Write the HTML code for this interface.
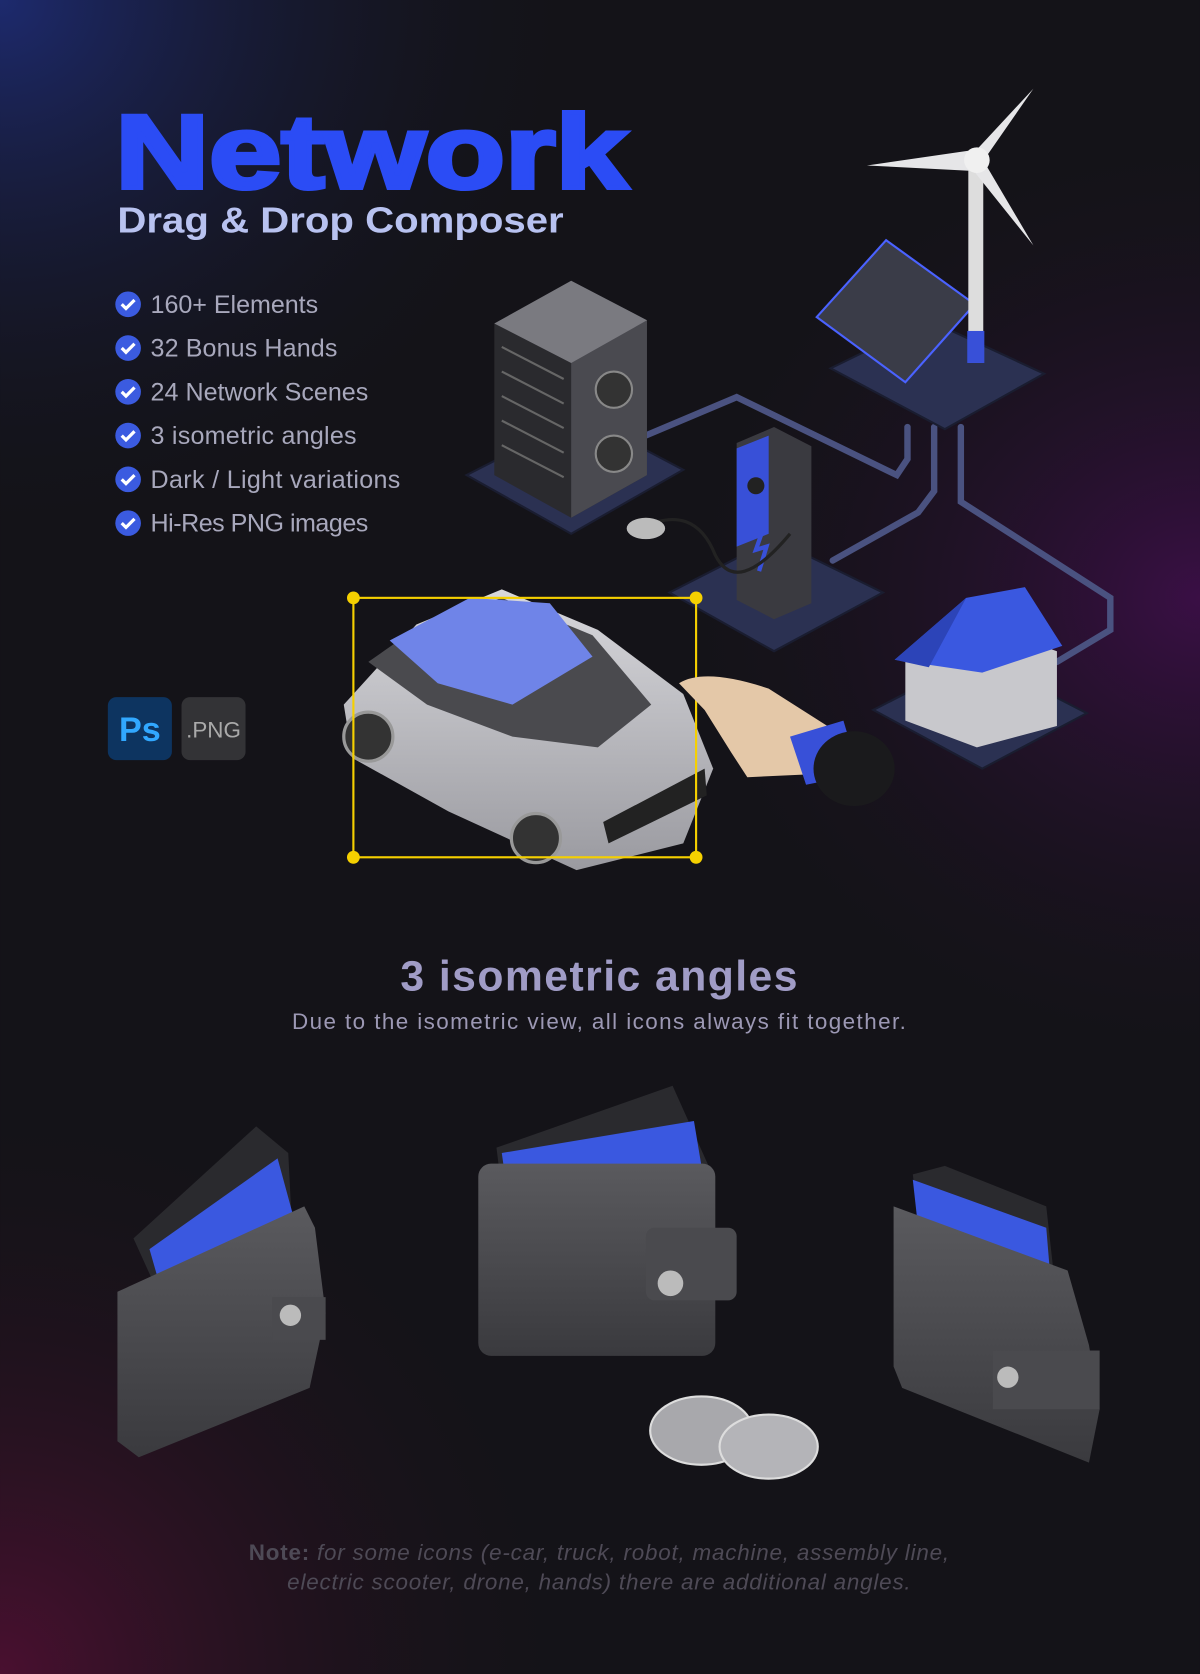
<!DOCTYPE html>
<html><head><meta charset="utf-8"><style>
html,body{margin:0;padding:0;background:#141318;}
svg{display:block}
</style></head><body>
<svg width="1200" height="1674" viewBox="0 0 1124 1568" xmlns="http://www.w3.org/2000/svg">
<defs>
<radialGradient id="g1" cx="0" cy="0" r="1" gradientUnits="userSpaceOnUse" gradientTransform="translate(0,0) scale(560,520)">
<stop offset="0" stop-color="#1d2a6e"/><stop offset="1" stop-color="#141318" stop-opacity="0"/></radialGradient>
<radialGradient id="g2" cx="0" cy="0" r="1" gradientUnits="userSpaceOnUse" gradientTransform="translate(1124,560) scale(520,460)">
<stop offset="0" stop-color="#3a0f45"/><stop offset="1" stop-color="#141318" stop-opacity="0"/></radialGradient>
<radialGradient id="g3" cx="0" cy="0" r="1" gradientUnits="userSpaceOnUse" gradientTransform="translate(0,1568) scale(560,560)">
<stop offset="0" stop-color="#4a1030"/><stop offset="1" stop-color="#141318" stop-opacity="0"/></radialGradient>
<linearGradient id="sil" x1="0" y1="0" x2="0" y2="1"><stop offset="0" stop-color="#d8d8dc"/><stop offset="1" stop-color="#9a9aa0"/></linearGradient>
<linearGradient id="wal" x1="0" y1="0" x2="0" y2="1"><stop offset="0" stop-color="#5a5a5e"/><stop offset="1" stop-color="#3a3a3e"/></linearGradient>
</defs>
<rect width="1124" height="1568" fill="#141318"/>
<rect width="1124" height="1568" fill="url(#g1)"/>
<rect width="1124" height="1568" fill="url(#g2)"/>
<rect width="1124" height="1568" fill="url(#g3)"/>

<g font-family="Liberation Sans, sans-serif">
<text x="108" y="176" font-size="98" font-weight="900" fill="#2b4cf5" textLength="480" lengthAdjust="spacingAndGlyphs" stroke="#2b4cf5" stroke-width="4">Network</text>
<text x="110" y="218" font-size="34" font-weight="700" fill="#b8c2f0" textLength="418" lengthAdjust="spacingAndGlyphs">Drag &amp; Drop Composer</text>
</g>
<g font-family="Liberation Sans, sans-serif" font-size="23.5" fill="#a8a8bc">
<circle cx="120" cy="285" r="12" fill="#3b5be0"/><path d="M114 285l4 4 8-8" stroke="#fff" stroke-width="3" fill="none"/><text x="141" y="293" textLength="157">160+ Elements</text>
<circle cx="120" cy="326" r="12" fill="#3b5be0"/><path d="M114 326l4 4 8-8" stroke="#fff" stroke-width="3" fill="none"/><text x="141" y="334" textLength="175">32 Bonus Hands</text>
<circle cx="120" cy="367" r="12" fill="#3b5be0"/><path d="M114 367l4 4 8-8" stroke="#fff" stroke-width="3" fill="none"/><text x="141" y="375" textLength="204">24 Network Scenes</text>
<circle cx="120" cy="408" r="12" fill="#3b5be0"/><path d="M114 408l4 4 8-8" stroke="#fff" stroke-width="3" fill="none"/><text x="141" y="416" textLength="193">3 isometric angles</text>
<circle cx="120" cy="449" r="12" fill="#3b5be0"/><path d="M114 449l4 4 8-8" stroke="#fff" stroke-width="3" fill="none"/><text x="141" y="457" textLength="234">Dark / Light variations</text>
<circle cx="120" cy="490" r="12" fill="#3b5be0"/><path d="M114 490l4 4 8-8" stroke="#fff" stroke-width="3" fill="none"/><text x="141" y="498" textLength="204">Hi-Res PNG images</text>
</g>
<rect x="101" y="653" width="60" height="59" rx="8" fill="#0d3460"/>
<text x="131" y="694" text-anchor="middle" font-family="Liberation Sans, sans-serif" font-weight="700" font-size="32" fill="#31a8ff">Ps</text>
<rect x="170" y="653" width="60" height="59" rx="8" fill="#333336"/>
<text x="200" y="691" text-anchor="middle" font-family="Liberation Sans, sans-serif" font-size="21" fill="#aaa">.PNG</text>

<g fill="none" stroke="#4a5280" stroke-width="6" stroke-linecap="round">
<path d="M600 410 L690 372 L840 445 L850 430 L850 400"/>
<path d="M780 525 L860 480 L875 460 L875 400"/>
<path d="M900 400 L900 470 L1040 560 L1040 590 L990 620"/>
</g>
<g fill="#2b3152" stroke="#1a1d30" stroke-width="2">
<path d="M437 445 L545 390 L640 440 L535 500Z"/>
<path d="M778 345 L870 300 L978 350 L885 402Z"/>
<path d="M627 555 L725 505 L827 555 L725 610Z"/>
<path d="M818 665 L915 615 L1018 668 L920 720Z"/>
</g>
<path d="M463 303 L535 263 L606 300 L606 445 L535 485 L463 445Z" fill="#2a2a2e"/>
<path d="M535 303 L606 300 L606 445 L535 485Z" fill="#4a4a50"/>
<path d="M463 303 L535 263 L606 300 L535 340Z" fill="#7a7a80"/>
<g stroke="#666" stroke-width="2">
<line x1="470" y1="325" x2="528" y2="355"/><line x1="470" y1="348" x2="528" y2="378"/><line x1="470" y1="371" x2="528" y2="401"/><line x1="470" y1="394" x2="528" y2="424"/><line x1="470" y1="417" x2="528" y2="447"/>
</g>
<circle cx="575" cy="365" r="17" fill="#333" stroke="#888" stroke-width="2"/><circle cx="575" cy="425" r="17" fill="#333" stroke="#888" stroke-width="2"/>
<path d="M690 415 L725 400 L760 418 L760 565 L725 580 L690 562Z" fill="#3a3a40"/>
<path d="M690 420 L720 408 L720 500 L690 512Z" fill="#3850d8"/>
<circle cx="708" cy="455" r="8" fill="#222"/>
<path d="M715 495 L708 515 L718 512 L711 535" stroke="#3850d8" stroke-width="4" fill="none"/>
<path d="M600 495 Q650 470 670 520 Q690 560 740 500" stroke="#222" stroke-width="3" fill="none"/>
<ellipse cx="605" cy="495" rx="18" ry="10" fill="#bbb"/>
<path d="M765 297 L830 225 L913 285 L848 358Z" fill="#3a3c48" stroke="#4a62ff" stroke-width="2"/>
<rect x="907" y="150" width="14" height="190" fill="#ddd"/>
<rect x="906" y="310" width="16" height="30" fill="#3850d8"/>
<path d="M915 140 L812 155 L910 160Z M915 140 L968 83 L925 145Z M915 140 L968 230 L912 160Z" fill="#e6e6e8"/>
<circle cx="915" cy="150" r="12" fill="#f0f0f0"/>
<path d="M848 615 L920 585 L990 610 L990 680 L915 700 L848 675Z" fill="#c8c8cc"/>
<path d="M838 618 L905 560 L960 550 L995 605 L920 630Z" fill="#3a58e0"/>
<path d="M905 560 L838 618 L870 625Z" fill="#2c44b8"/>
<path d="M322 660 L390 585 L470 552 L560 590 L640 650 L668 720 L640 790 L540 815 L420 760 L330 710Z" fill="url(#sil)"/>
<path d="M345 620 L395 585 L470 560 L555 595 L610 660 L560 700 L480 690 L400 660Z" fill="#4a4a4e"/>
<path d="M365 600 L440 560 L515 565 L555 615 L480 660 L410 640Z" fill="#6f84e8"/>
<circle cx="345" cy="690" r="23" fill="#333" stroke="#999" stroke-width="3"/>
<circle cx="502" cy="785" r="23" fill="#333" stroke="#999" stroke-width="3"/>
<path d="M565 770 L660 720 L662 745 L570 790Z" fill="#222"/>
<g stroke="#f5d000" stroke-width="2" fill="none"><rect x="331" y="560" width="321" height="243"/></g>
<g fill="#f5d000"><circle cx="331" cy="560" r="6"/><circle cx="652" cy="560" r="6"/><circle cx="331" cy="803" r="6"/><circle cx="652" cy="803" r="6"/></g>
<path d="M636 640 Q660 625 720 645 L775 680 L765 725 L700 728 L685 705 L660 665Z" fill="#e4c8a8"/>
<path d="M740 690 L790 675 L805 725 L755 735Z" fill="#3850d8"/>
<ellipse cx="800" cy="720" rx="38" ry="35" fill="#1a1a1c"/>

<g font-family="Liberation Sans, sans-serif" text-anchor="middle">
<text x="561" y="928" font-size="40" font-weight="700" fill="#a09cc6" textLength="372">3 isometric angles</text>
<text x="561" y="964" font-size="21" fill="#9c98b4" textLength="575">Due to the isometric view, all icons always fit together.</text>
<text x="561" y="1461" font-size="21" fill="#4e4a56" font-style="italic" textLength="656"><tspan font-weight="700" font-style="normal">Note:</tspan> for some icons (e-car, truck, robot, machine, assembly line,</text>
<text x="561" y="1489" font-size="21" fill="#4e4a56" font-style="italic" textLength="584">electric scooter, drone, hands) there are additional angles.</text>
</g>

<path d="M125 1160 L240 1055 L270 1080 L275 1180 L150 1215Z" fill="#2a2a2e"/>
<path d="M140 1170 L260 1085 L275 1140 L150 1205Z" fill="#3a58e0"/>
<path d="M110 1210 L285 1130 L295 1150 L305 1230 L290 1300 L130 1365 L110 1350Z" fill="url(#wal)"/>
<rect x="255" y="1215" width="50" height="40" fill="#4a4a4e"/><circle cx="272" cy="1232" r="10" fill="#bbb"/>

<path d="M465 1075 L630 1017 L665 1095 L470 1115Z" fill="#2a2a2e"/>
<path d="M470 1080 L650 1050 L660 1110 L475 1115Z" fill="#3a58e0"/>
<rect x="448" y="1090" width="222" height="180" rx="12" fill="url(#wal)"/>
<rect x="605" y="1150" width="85" height="68" rx="8" fill="#4a4a4e"/><circle cx="628" cy="1202" r="12" fill="#bbb"/>

<path d="M855 1100 L885 1092 L980 1130 L990 1220 L860 1140Z" fill="#2a2a2e"/>
<path d="M855 1105 L980 1150 L985 1210 L860 1150Z" fill="#3a58e0"/>
<path d="M837 1130 L1000 1190 L1020 1260 L1030 1320 L1020 1370 L845 1300 L837 1280Z" fill="url(#wal)"/>
<rect x="930" y="1265" width="100" height="55" fill="#4a4a4e"/><circle cx="944" cy="1290" r="10" fill="#bbb"/>

<ellipse cx="657" cy="1340" rx="48" ry="32" fill="#a8a8ac" stroke="#ddd" stroke-width="2"/>
<ellipse cx="720" cy="1355" rx="46" ry="30" fill="#b4b4b8" stroke="#ddd" stroke-width="2"/>
</svg>
</body></html>
